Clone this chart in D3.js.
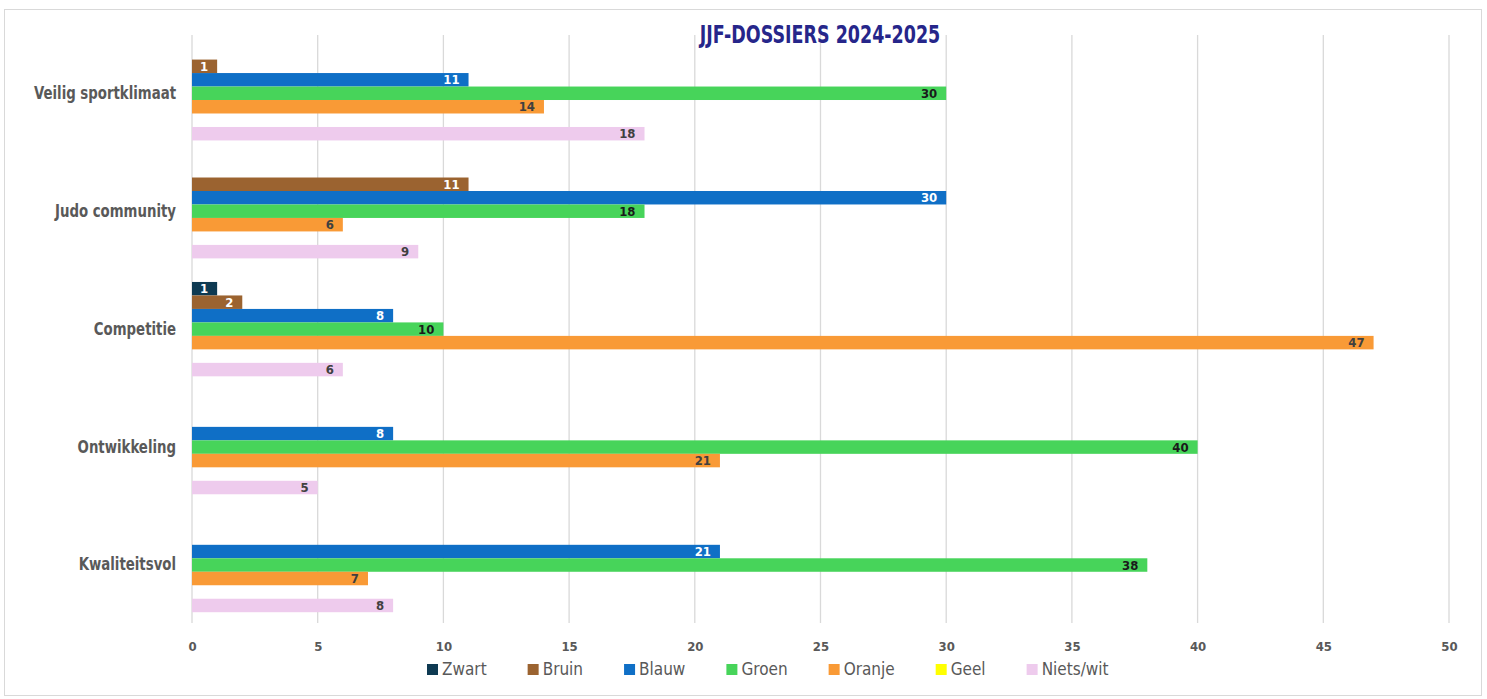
<!DOCTYPE html>
<html>
<head>
<meta charset="utf-8">
<script src="https://cdn.jsdelivr.net/npm/d3@7"></script>
<style>
  html, body { margin: 0; padding: 0; background: #fff; }
  svg text { font-family: "Liberation Sans Narrow", "DejaVu Sans Condensed", "Roboto", sans-serif; }
</style>
</head>
<body>
<svg id="chart" width="1487" height="699"></svg>
<script>
const title = "JJF-DOSSIERS 2024-2025";
const categories = ["Veilig sportklimaat", "Judo community", "Competitie", "Ontwikkeling", "Kwaliteitsvol"];
const seriesNames = ["Zwart", "Bruin", "Blauw", "Groen", "Oranje", "Geel", "Niets/wit"];
const seriesColors = ["#0e3a52", "#9b6330", "#0f6fc6", "#47d45a", "#f99a36", "#ffff00", "#eecbed"];
const labelColors = ["#ffffff", "#ffffff", "#ffffff", "#1a1a1a", "#404040", "#404040", "#404040"];
const zwart  = [0, 0, 1, 0, 0];
const bruin  = [1, 11, 2, 0, 0];
const blauw  = [11, 30, 8, 8, 21];
const groen  = [30, 18, 10, 40, 38];
const oranje = [14, 6, 47, 21, 7];
const geel   = [0, 0, 0, 0, 0];
const niets  = [18, 9, 6, 5, 8];
const seriesValues = [zwart, bruin, blauw, groen, oranje, geel, niets];
const xTicks = [0, 5, 10, 15, 20, 25, 30, 35, 40, 45, 50];

const svg = d3.select("#chart");

function narrow(sel, f) {
  sel.each(function () {
    const w = this.getComputedTextLength();
    d3.select(this).attr("textLength", w * f).attr("lengthAdjust", "spacingAndGlyphs");
  });
}

// frame
svg.append("rect").attr("x", 4.5).attr("y", 9.5).attr("width", 1477).attr("height", 686)
  .attr("fill", "#fff").attr("stroke", "#d9d9d9").attr("stroke-width", 1);

const x = d3.scaleLinear().domain([0, 50]).range([192, 1449]);
const y = d3.scaleBand().domain(categories).range([34.3, 624]).paddingInner(0.2).paddingOuter(0.1);
const ys = d3.scaleBand().domain(seriesNames).range([0, y.bandwidth()]).padding(0);

// grid
svg.append("g").selectAll("line").data(xTicks).join("line")
  .attr("x1", d => x(d)).attr("x2", d => x(d))
  .attr("y1", 35).attr("y2", 623)
  .attr("stroke", "#d9d9d9").attr("stroke-width", 1.3);

// x tick labels
const xAxis = d3.axisBottom(x).tickValues(xTicks).tickSize(0).tickPadding(0);
const gx = svg.append("g").attr("transform", "translate(0,642)").call(xAxis);
gx.select(".domain").remove();
gx.selectAll("text").attr("fill", "#595959").attr("font-size", 13).attr("font-weight", "bold")
  .style("font-family", "'Liberation Sans Narrow', 'DejaVu Sans Condensed', sans-serif");

// y category labels
const yAxis = d3.axisLeft(y).tickSize(0).tickPadding(0);
const gy = svg.append("g").attr("transform", "translate(176,0)").call(yAxis);
gy.select(".domain").remove();
gy.selectAll("text").attr("fill", "#595959").attr("font-size", 17).attr("font-weight", "bold")
  .style("font-family", "'Liberation Sans Narrow', 'DejaVu Sans Condensed', sans-serif");
narrow(gy.selectAll("text"), 0.87);

// bars
const flat = [];
categories.forEach((c, ci) => {
  seriesNames.forEach((s, si) => {
    flat.push({ cat: c, series: s, si: si, value: seriesValues[si][ci] });
  });
});
const bars = svg.append("g");
bars.selectAll("rect").data(flat.filter(d => d.value > 0)).join("rect")
  .attr("x", x(0))
  .attr("y", d => y(d.cat) + ys(d.series))
  .attr("width", d => x(d.value) - x(0))
  .attr("height", ys.bandwidth())
  .attr("fill", d => seriesColors[d.si]);

bars.selectAll("text").data(flat.filter(d => d.value > 0)).join("text")
  .attr("x", d => x(d.value) - 9)
  .attr("y", d => y(d.cat) + ys(d.series) + ys.bandwidth() / 2)
  .attr("dy", "0.36em")
  .attr("text-anchor", "end")
  .attr("font-size", 13).attr("font-weight", "bold")
  .attr("fill", d => labelColors[d.si])
  .text(d => d.value);

// title
const tt = svg.append("text").attr("x", 820).attr("y", 43).attr("text-anchor", "middle")
  .attr("font-size", 24).attr("font-weight", "bold").attr("fill", "#26268a")
  .text(title);
narrow(tt, 0.81);

// legend
const legend = svg.append("g").attr("transform", "translate(427,669)");
let lx = 0;
seriesNames.forEach((s, i) => {
  const g = legend.append("g").attr("transform", `translate(${lx},0)`);
  g.append("rect").attr("x", 0).attr("y", -5).attr("width", 11).attr("height", 11).attr("fill", seriesColors[i]);
  const t = g.append("text").attr("x", 15).attr("y", 0).attr("dy", "0.36em")
    .attr("font-size", 17).attr("fill", "#595959").text(s);
  lx += 15 + t.node().getComputedTextLength() + 41;
});
</script>
</body>
</html>
